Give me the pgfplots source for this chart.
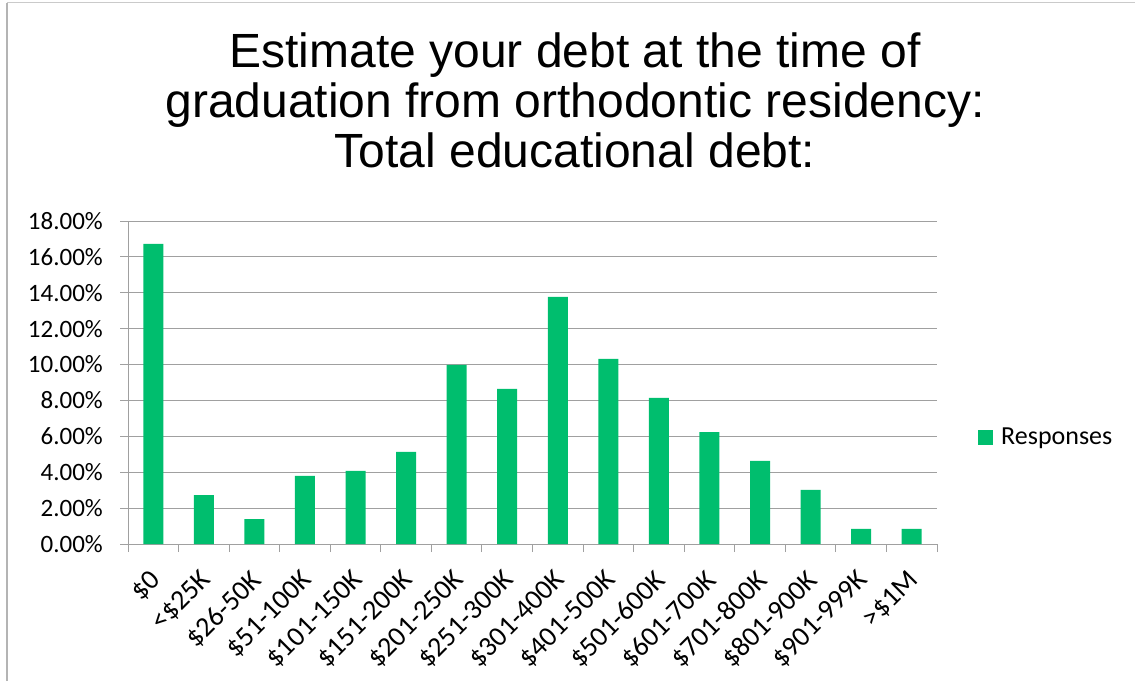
\documentclass[border=0pt]{standalone}
\usepackage{pgfplots}
\pgfplotsset{compat=1.18}
\usepackage{fontspec}
\setmainfont{Carlito}
\newfontfamily\arial{Liberation Sans}
\definecolor{bargreen}{RGB}{0,190,110}
\definecolor{gridgray}{RGB}{160,160,160}
\definecolor{framegray}{RGB}{180,180,180}
\begin{document}
\begin{tikzpicture}[x=1pt,y=1pt]
\useasboundingbox (0,0) rectangle (1135,681);
\draw[framegray, line width=2pt] (7,0) -- (7,678);
\draw[framegray!70, line width=1pt] (7,678) -- (1135,678);
\node[anchor=base, font=\arial\fontsize{48}{50}\selectfont, inner sep=0pt] at (575,613) {Estimate your debt at the time of};
\node[anchor=base, font=\arial\fontsize{48}{50}\selectfont, inner sep=0pt] at (575,563) {graduation from orthodontic residency:};
\node[anchor=base, font=\arial\fontsize{48}{50}\selectfont, inner sep=0pt] at (575,513) {Total educational debt:};
\begin{axis}[
  at={(128pt,137pt)}, anchor=south west,
  scale only axis, width=809pt, height=323pt,
  xmin=-0.5, xmax=15.5, ymin=0, ymax=18,
  enlargelimits=false,
  axis x line*=bottom, axis y line*=left,
  axis line style={draw=gridgray, line width=1pt, -},
  ymajorgrids, grid style={gridgray, line width=1pt},
  ytick={0,2,...,18},
  yticklabel={\pgfmathprintnumber[fixed,fixed zerofill,precision=2]{\tick}\%},
  /pgf/number format/assume math mode=true,
  tick label style={font=\fontsize{25}{30}\selectfont, text=black},
  tick align=outside,
  major tick length=8pt, minor tick length=8pt,
  ytick style={gridgray, line width=1pt},
  xtick={0,...,15},
  major x tick style={draw=none},
  minor xtick={-0.5,0.5,...,15.5},
  minor x tick style={gridgray, line width=1pt},
  xticklabels={\$0,<\$25K,\$26-50K,\$51-100K,\$101-150K,\$151-200K,\$201-250K,\$251-300K,\$301-400K,\$401-500K,\$501-600K,\$601-700K,\$701-800K,\$801-900K,\$901-999K,>\$1M},
  xticklabel style={font=\fontsize{28}{30}\selectfont, rotate=45, anchor=east, inner sep=0pt, yshift=-19pt, xshift=-15pt},
  yticklabel style={anchor=east, inner sep=0pt, xshift=-17pt},
  legend style={at={(1.0507,0.331)}, anchor=west, draw=none, fill=none,
    font=\fontsize{26}{30}\selectfont, inner sep=0pt, column sep=0pt},
  legend image code/.code={\fill[bargreen] (0pt,-7.5pt) rectangle (15pt,7.5pt); \path (21pt,0pt);},
  legend cell align=left,
]
\addplot[ybar, bar width=20pt, fill=bargreen, draw=none] coordinates {
(0,16.72) (1,2.73) (2,1.39) (3,3.79) (4,4.07) (5,5.13) (6,9.98) (7,8.64)
(8,13.77) (9,10.31) (10,8.14) (11,6.24) (12,4.63) (13,3.01) (14,0.84) (15,0.84)};
\addlegendentry{Responses}
\end{axis}
\end{tikzpicture}
\end{document}
